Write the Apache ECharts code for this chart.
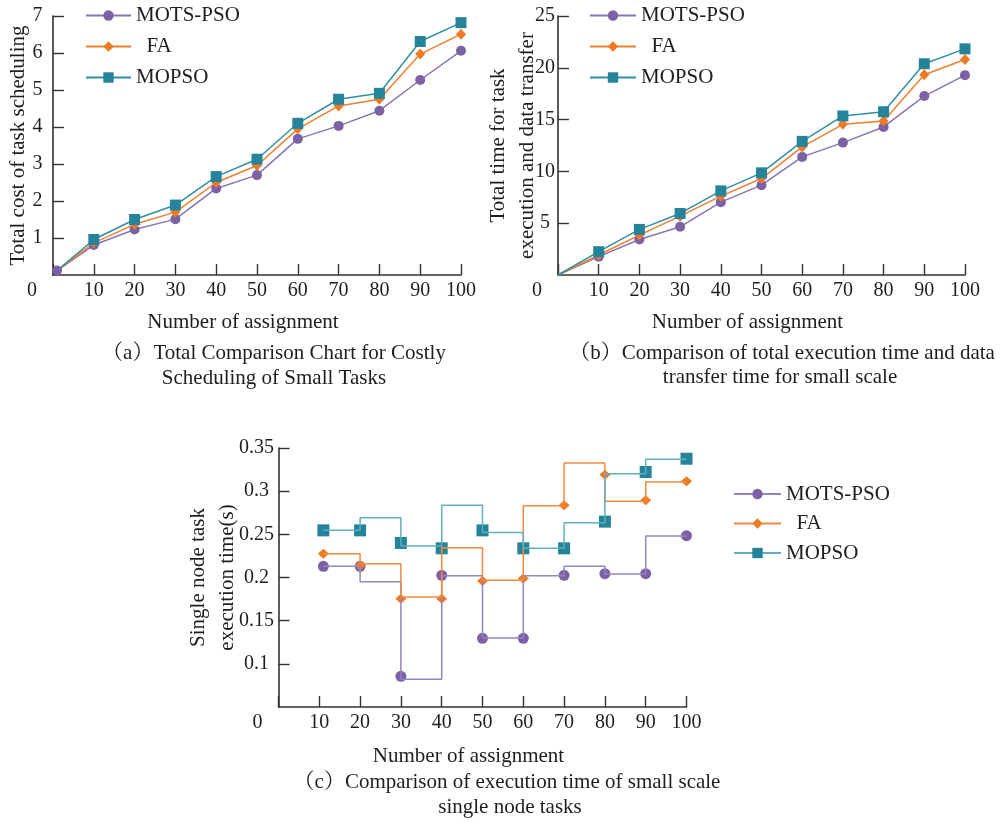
<!DOCTYPE html>
<html><head><meta charset="utf-8">
<script src="https://cdn.jsdelivr.net/npm/echarts@6/dist/echarts.min.js"></script>
<style>html,body{margin:0;padding:0;background:#fff}#c{width:1003px;height:824px}</style>
</head><body><div id="c"></div>
<script>
// ---------- data ----------
const seriesNames = ['MOTS-PSO', 'FA', 'MOPSO'];
// (a) total cost of task scheduling
const xA = [1, 10, 20, 30, 40, 50, 60, 70, 80, 90, 100];
const costMots  = [0.12, 0.81, 1.23, 1.51, 2.34, 2.70, 3.68, 4.03, 4.44, 5.27, 6.06];
const costFa    = [0.12, 0.87, 1.37, 1.70, 2.50, 2.96, 3.95, 4.57, 4.75, 5.97, 6.51];
const costMopso = [0.12, 0.96, 1.50, 1.89, 2.66, 3.13, 4.10, 4.75, 4.91, 6.31, 6.82];
// (b) total time for task execution and data transfer
const xB = [0, 10, 20, 30, 40, 50, 60, 70, 80, 90, 100];
const timeMots  = [0, 1.77, 3.43, 4.65, 7.03, 8.67, 11.40, 12.78, 14.29, 17.27, 19.29];
const timeFa    = [0, 1.93, 3.85, 5.68, 7.61, 9.31, 12.36, 14.54, 14.86, 19.33, 20.80];
const timeMopso = [0, 2.25, 4.40, 5.94, 8.12, 9.86, 12.90, 15.35, 15.76, 20.39, 21.83];
// (c) single node task execution time (step lines + markers)
const xC = [11, 20, 30, 40, 50, 60, 70, 80, 90, 100];
const stepMots  = [0.213, 0.195, 0.082, 0.202, 0.130, 0.202, 0.213, 0.204, 0.248, 0.248];
const markMots  = [0.213, 0.213, 0.0855, 0.2025, 0.1295, 0.1295, 0.2025, 0.2044, 0.2044, 0.2484];
const stepFa    = [0.2276, 0.216, 0.1774, 0.2345, 0.1967, 0.2832, 0.3326, 0.2882, 0.3106, 0.3106];
const markFa    = [0.2276, 0.214, 0.1755, 0.1755, 0.196, 0.1987, 0.2836, 0.319, 0.2894, 0.3114];
const stepMopso = [0.2546, 0.2693, 0.2365, 0.2836, 0.252, 0.2338, 0.2635, 0.3203, 0.3369, 0.3369];
const markMopso = [0.2546, 0.2546, 0.24, 0.2338, 0.2546, 0.2338, 0.2338, 0.2647, 0.3222, 0.3376];

const xName = 'Number of assignment';
const yNames = ['Total cost of task scheduling', 'Total time for task\nexecution and data transfer', 'Single node task\nexecution time(s)'];
const captions = [
  ['（a）Total Comparison Chart for Costly', 'Scheduling of Small Tasks'],
  ['（b）Comparison of total execution time and data', 'transfer time for small scale'],
  ['（c）Comparison of execution time of small scale', 'single node tasks']
];

// ---------- styles ----------
const FONT = '"Liberation Serif", "Times New Roman", "Noto Serif CJK SC", "Noto Sans CJK SC", serif';
const TXT = '#1e1e1e';
const AX = '#333';
const markerColor = ['#7b62a4', '#ef7a24', '#26849a'];
const lineColorAB = ['#8a74b4', '#f07f2e', '#2f8fa4'];
const lineColorC  = ['#9683c0', '#f28a40', '#62adbe'];
const symbols = ['circle', 'diamond', 'rect'];
const symSizes = [10, [10, 11], 11];
const symSizesC = [11, [11, 10], 12];

function xAxis(gi, gap) {
  return {
    type: 'value', gridIndex: gi, min: 0, max: 100, interval: 10,
    name: xName, nameLocation: 'middle', nameGap: gap, nameMoveOverlap: false,
    nameTextStyle: { fontFamily: FONT, fontSize: 21, color: TXT, padding: [0, 28, 0, 0] },
    axisLine: { show: true, onZero: false, lineStyle: { color: AX, width: 1.6 } },
    axisTick: { show: true, inside: true, length: 11, lineStyle: { color: AX, width: 1.4 } },
    axisLabel: {
      margin: 6, fontFamily: FONT, fontSize: 20, color: TXT,
      formatter: v => v === 0 ? '{z|0}' : String(v),
      rich: { z: { fontFamily: FONT, fontSize: 20, color: TXT, padding: [0, 42, 0, 0] } }
    },
    splitLine: { show: false }
  };
}
function yAxis(gi, min, max, interval, name, gap, labelMargin) {
  return {
    type: 'value', gridIndex: gi, min, max, interval,
    name, nameLocation: 'middle', nameGap: gap, nameMoveOverlap: false,
    nameTextStyle: { fontFamily: FONT, fontSize: 21, color: TXT, lineHeight: 29 },
    axisLine: { show: true, onZero: false, lineStyle: { color: AX, width: 1.6 } },
    axisTick: { show: true, inside: true, length: 11, lineStyle: { color: AX, width: 1.4 } },
    axisLabel: { margin: labelMargin, align: 'center', showMinLabel: false, fontFamily: FONT, fontSize: 20, color: TXT },
    splitLine: { show: false }
  };
}

function lineSeries(tag, k, gi, xs, ys, firstSymbol) {
  return {
    type: 'line', name: tag + seriesNames[k], xAxisIndex: gi, yAxisIndex: gi,
    data: xs.map((x, i) => (i === 0 && !firstSymbol) ? { value: [x, ys[i]], symbol: 'none' } : [x, ys[i]]),
    symbol: symbols[k], symbolSize: symSizes[k], showAllSymbol: true,
    lineStyle: { color: lineColorAB[k], width: 1.5 },
    itemStyle: { color: markerColor[k] },
    emphasis: { disabled: true }
  };
}

const series = [];
[costMots, costFa, costMopso].forEach((d, k) => series.push(lineSeries('a:', k, 0, xA, d, k === 0)));
[timeMots, timeFa, timeMopso].forEach((d, k) => series.push(lineSeries('b:', k, 1, xB, d, false)));
[[stepMots, markMots], [stepFa, markFa], [stepMopso, markMopso]].forEach(([st, mk], k) => {
  series.push({
    type: 'line', step: 'end', name: 'c:' + seriesNames[k], xAxisIndex: 2, yAxisIndex: 2,
    data: xC.map((x, i) => [x, st[i]]),
    symbol: symbols[k], symbolSize: symSizesC[k], showSymbol: false,
    lineStyle: { color: lineColorC[k], width: 1.5 },
    itemStyle: { color: markerColor[k] },
    emphasis: { disabled: true }
  });
  series.push({
    type: 'scatter', name: 'c:' + seriesNames[k], xAxisIndex: 2, yAxisIndex: 2,
    data: xC.map((x, i) => [x, mk[i]]),
    symbol: symbols[k], symbolSize: symSizesC[k],
    itemStyle: { color: markerColor[k], opacity: 1 },
    emphasis: { disabled: true }
  });
});

function legend(tag, left, top, gap, w) {
  return {
    orient: 'vertical', left, top, padding: 0, itemGap: gap, itemWidth: w, itemHeight: 13,
    data: seriesNames.map(n => tag + n),
    selectedMode: false,
    formatter: n => { const s = n.slice(2); return s === 'FA' ? '  FA' : s; },
    textStyle: { fontFamily: FONT, fontSize: 21, color: TXT, lineHeight: 21 }
  };
}

const graphic = [];
const capPos = [[[274, 353], [274, 378]], [[782, 353], [780, 377]], [[507, 782], [510, 807]]];
captions.forEach((lines, i) => lines.forEach((t, j) => graphic.push({
  type: 'text', x: capPos[i][j][0], y: capPos[i][j][1],
  style: { text: t, fontFamily: FONT, fontSize: 21, fill: TXT, align: 'center', verticalAlign: 'middle' }
})));

const option = {
  animation: false,
  backgroundColor: '#fff',
  grid: [
    { left: 53, top: 16, width: 408, height: 259 },
    { left: 558, top: 16, width: 407, height: 259 },
    { left: 278.5, top: 448, width: 408, height: 259 }
  ],
  xAxis: [xAxis(0, 37), xAxis(1, 37), xAxis(2, 39)],
  yAxis: [
    yAxis(0, 0, 7, 1, yNames[0], 20.5, 15.5),
    yAxis(1, 0, 25, 5, yNames[1], 16, 13),
    yAxis(2, 0.05, 0.35, 0.05, yNames[2], 37, 22)
  ],
  legend: [legend('a:', 85, 5, 10, 45), legend('b:', 589, 5, 10, 46), legend('c:', 733, 483.5, 8.5, 47)],
  graphic,
  series
};
const chart = echarts.init(document.getElementById('c'), null, { renderer: 'canvas' });
chart.setOption(option);
</script></body></html>
